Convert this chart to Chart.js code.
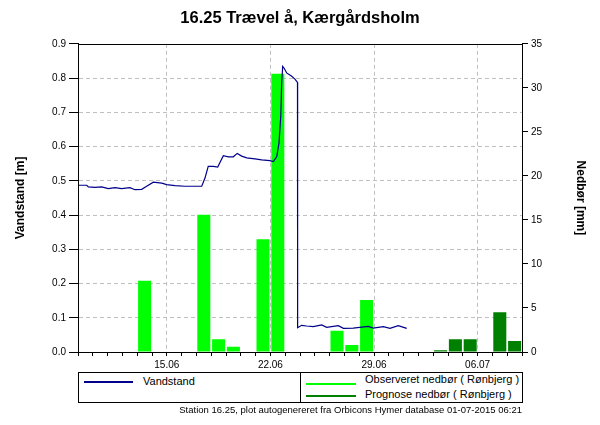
<!DOCTYPE html>
<html>
<head>
<meta charset="utf-8">
<script src="https://cdn.jsdelivr.net/npm/chart.js@4.4.1/dist/chart.umd.min.js"></script>
<style>
  html, body { margin:0; padding:0; background:#fff; }
  #wrap { position:relative; width:600px; height:425px; font-family:"Liberation Sans", Arial, sans-serif; }
  #c { position:absolute; left:0; top:0; }
  #legend { position:absolute; left:78px; top:372px; width:445px; height:31px; border:1px solid #000; box-sizing:border-box; overflow:hidden; background:#fff; }
  #legend .sw { position:absolute; height:2px; }
  #legend .tx { position:absolute; font-size:11px; line-height:13px; white-space:nowrap; color:#000; }
  #legend .div { position:absolute; left:221px; top:0; bottom:0; width:1px; background:#000; }
  #footer { position:absolute; right:78px; top:404px; font-size:9.5px; line-height:12px; white-space:nowrap; color:#000; }
</style>
</head>
<body>
<div id="wrap">
  <canvas id="c" width="600" height="425"></canvas>
  <div id="legend"></div>
  <div id="footer">Station 16.25, plot autogenereret fra Orbicons Hymer database 01-07-2015 06:21</div>
</div>
<script>
// ---- data (x = days since 09.06 00:00) ----
const levelDays = [0.00,0.59,0.70,1.15,1.60,2.05,2.50,2.95,3.51,3.85,4.30,4.64,5.09,5.66,5.99,6.55,7.23,7.91,8.36,8.58,8.80,9.14,9.44,9.82,10.16,10.49,10.76,11.06,11.40,11.96,12.41,12.97,13.20,13.43,13.58,13.70,13.76,13.83,13.94,14.10,14.44,14.66,14.83,14.84,15.11,15.45,15.90,16.47,16.80,17.59,17.93,18.60,19.61,19.95,20.63,21.08,21.64,22.21];
const levelValues = [0.487,0.487,0.482,0.481,0.482,0.477,0.480,0.477,0.480,0.474,0.475,0.484,0.496,0.493,0.489,0.486,0.484,0.484,0.484,0.508,0.542,0.542,0.540,0.573,0.570,0.570,0.580,0.572,0.567,0.564,0.561,0.559,0.556,0.571,0.610,0.688,0.785,0.834,0.828,0.815,0.805,0.797,0.787,0.071,0.078,0.076,0.074,0.079,0.072,0.077,0.069,0.070,0.075,0.070,0.074,0.069,0.077,0.069];

const obsDays = [4, 8, 9, 10, 12, 13, 17, 18, 19];          // 13.06 ... 28.06
const obsRain = [8.1, 15.6, 1.45, 0.6, 12.8, 31.6, 2.4, 0.8, 5.9];
const progDays = [24, 25, 26, 28, 29];                      // 03.07 ... 08.07
const progRain = [0.2, 1.45, 1.45, 4.5, 1.25];

const xTickDays = [6, 13, 20, 27];
const xTickLabels = ['15.06', '22.06', '29.06', '06.07'];

const titleText = '16.25 Trævel å, Kærgårdsholm';
const leftTitle = 'Vandstand [m]';
const rightTitle = 'Nedbør [mm]';
const seriesNames = ['Vandstand', 'Observeret nedbør ( Rønbjerg )', 'Prognose nedbør ( Rønbjerg )'];
const seriesColors = ['#00008B', '#00FF00', '#008000'];

// ---- chart ----
Chart.defaults.font.family = '"Liberation Sans", Arial, sans-serif';
Chart.defaults.color = '#000';

const gridGray = '#c0c0c0';

const framePlugin = {
  id: 'frame',
  afterDatasetsDraw(chart) {
    const {ctx, chartArea: a} = chart;
    ctx.save();
    ctx.strokeStyle = '#000';
    ctx.lineWidth = 1;
    ctx.strokeRect(Math.round(a.left) + 0.5, Math.round(a.top) + 0.5,
                   Math.round(a.right - a.left), Math.round(a.bottom - a.top));
    ctx.restore();
  }
};

const chart = new Chart(document.getElementById('c'), {
  type: 'line',
  data: {
    datasets: [
      {
        type: 'line',
        label: seriesNames[0],
        data: levelDays.map((d, i) => ({x: d, y: levelValues[i]})),
        borderColor: seriesColors[0],
        borderWidth: 1.2,
        pointRadius: 0,
        tension: 0,
        fill: false,
        yAxisID: 'y',
        order: 0
      },
      {
        type: 'bar',
        label: seriesNames[1],
        data: obsDays.map((d, i) => ({x: d + 0.5, y: obsRain[i]})),
        backgroundColor: seriesColors[1],
        borderWidth: 0,
        barPercentage: 0.88,
        categoryPercentage: 1,
        stack: 'rain',
        yAxisID: 'y1',
        order: 1
      },
      {
        type: 'bar',
        label: seriesNames[2],
        data: progDays.map((d, i) => ({x: d + 0.5, y: progRain[i]})),
        backgroundColor: seriesColors[2],
        borderWidth: 0,
        barPercentage: 0.88,
        categoryPercentage: 1,
        stack: 'rain',
        yAxisID: 'y1',
        order: 1
      }
    ]
  },
  options: {
    responsive: false,
    animation: false,
    events: [],
    layout: { padding: { top: 0, left: 0, right: 0, bottom: 53 } },
    plugins: {
      legend: { display: false },
      tooltip: { enabled: false },
      title: {
        display: true,
        text: titleText,
        font: { size: 16.5, weight: 'bold' },
        color: '#000',
        padding: { top: 9, bottom: 15 }
      }
    },
    scales: {
      x: {
        type: 'linear',
        min: 0,
        max: 30,
        offset: false,
        afterFit: s => { s.height = 20; },
        ticks: {
          stepSize: 1,
          autoSkip: false,
          maxRotation: 0,
          minRotation: 0,
          padding: 3,
          font: { size: 10 },
          color: '#000',
          callback: v => { const i = xTickDays.indexOf(v); return i >= 0 ? xTickLabels[i] : ''; }
        },
        grid: {
          offset: false,
          color: ctx => (ctx.tick && xTickDays.includes(ctx.tick.value)) ? gridGray : 'rgba(0,0,0,0)',
          tickColor: '#000',
          tickLength: 4,
          lineWidth: 1
        },
        border: { color: '#000', width: 1, dash: [4, 3] }
      },
      y: {
        type: 'linear',
        position: 'left',
        min: 0,
        max: 0.9,
        afterFit: s => { s.width = 78; },
        ticks: {
          stepSize: 0.1,
          padding: 3,
          font: { size: 10 },
          color: '#000',
          callback: v => Number(v).toFixed(1)
        },
        grid: {
          color: ctx => (ctx.tick && ctx.tick.value > 0.001 && ctx.tick.value < 0.85) ? gridGray : 'rgba(0,0,0,0)',
          tickColor: '#000',
          tickLength: 9,
          lineWidth: 1
        },
        border: { color: '#000', width: 1, dash: [4, 3] },
        title: {
          display: true,
          text: leftTitle,
          font: { size: 12, weight: 'bold' },
          color: '#000',
          padding: { top: 13, bottom: 0 }
        }
      },
      y1: {
        type: 'linear',
        position: 'right',
        min: 0,
        max: 35,
        afterFit: s => { s.width = 78; },
        ticks: {
          stepSize: 5,
          padding: 3,
          font: { size: 10 },
          color: '#000'
        },
        grid: {
          drawOnChartArea: false,
          color: '#000',
          tickColor: '#000',
          tickLength: 6
        },
        border: { color: '#000', width: 1 },
        title: {
          display: true,
          text: rightTitle,
          font: { size: 12, weight: 'bold' },
          color: '#000',
          padding: { top: 12, bottom: 0 }
        }
      }
    }
  },
  plugins: [framePlugin]
});

// ---- HTML legend built from the datasets ----
(function buildLegend() {
  const box = document.getElementById('legend');
  const slots = [
    { sw: [5, 8, 49], tx: [64, 2] },
    { sw: [227, 10, 50], tx: [286, 0] },
    { sw: [227, 22, 50], tx: [286, 15] }
  ];
  const d = document.createElement('div');
  d.className = 'div';
  box.appendChild(d);
  chart.data.datasets.forEach((ds, i) => {
    const s = slots[i];
    const sw = document.createElement('div');
    sw.className = 'sw';
    sw.style.left = s.sw[0] + 'px';
    sw.style.top = s.sw[1] + 'px';
    sw.style.width = s.sw[2] + 'px';
    sw.style.backgroundColor = seriesColors[i];
    box.appendChild(sw);
    const tx = document.createElement('div');
    tx.className = 'tx';
    tx.style.left = s.tx[0] + 'px';
    tx.style.top = s.tx[1] + 'px';
    tx.textContent = ds.label;
    box.appendChild(tx);
  });
})();
</script>
</body>
</html>
